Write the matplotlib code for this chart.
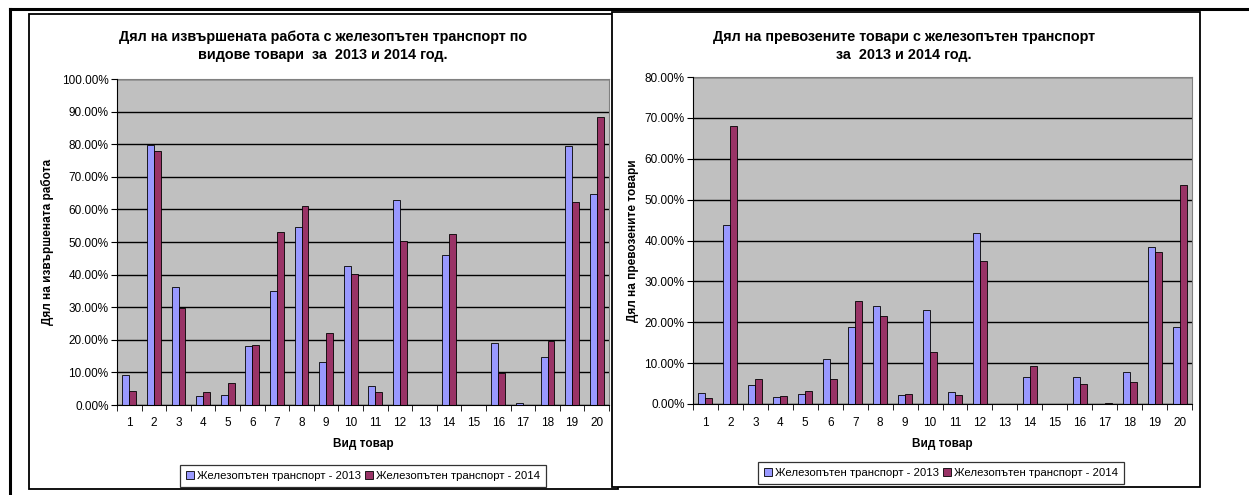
import matplotlib
matplotlib.use("Agg")
import matplotlib.pyplot as plt
from matplotlib.patches import Rectangle
from matplotlib.lines import Line2D
from matplotlib.ticker import FuncFormatter, MultipleLocator
import numpy as np

plt.rcParams["font.family"] = ["Liberation Sans", "DejaVu Sans"]

W, H = 1249, 495

categories = list(range(1, 21))

work_2013 = [9.1, 79.8, 36.3, 2.7, 3.1, 18.1, 34.9, 54.7, 13.1, 42.7,
             5.7, 63.0, 0.0, 46.1, 0.0, 19.1, 0.7, 14.6, 79.6, 64.6]
work_2014 = [4.4, 77.9, 29.7, 4.0, 6.7, 18.4, 53.1, 61.1, 22.2, 40.2,
             4.0, 50.2, 0.0, 52.5, 0.0, 9.8, 0.0, 19.7, 62.2, 88.2]

goods_2013 = [2.6, 43.9, 4.7, 1.8, 2.4, 11.1, 18.8, 23.9, 2.3, 22.9,
              2.9, 41.9, 0.0, 6.5, 0.0, 6.5, 0.1, 7.8, 38.5, 18.8]
goods_2014 = [1.5, 68.0, 6.2, 2.0, 3.2, 6.2, 25.2, 21.5, 2.4, 12.7,
              2.3, 35.0, 0.0, 9.3, 0.0, 4.9, 0.2, 5.4, 37.2, 53.6]

series_labels = ["Железопътен транспорт - 2013", "Железопътен транспорт - 2014"]
title_work = "Дял на извършената работа с железопътен транспорт по\nвидове товари  за  2013 и 2014 год."
title_goods = "Дял на превозените товари с железопътен транспорт\nза  2013 и 2014 год."

BLUE = "#9999FF"
MAROON = "#993366"
PLOT_BG = "#C0C0C0"


def fx(px):
    return px / W


def fy(py):
    return 1 - py / H


def frame(fig, x0, y0, x1, y1, z):
    r = Rectangle((fx(x0), fy(y1)), fx(x1) - fx(x0), fy(y0) - fy(y1),
                  transform=fig.transFigure, facecolor="white",
                  edgecolor="black", linewidth=1.3, zorder=z)
    fig.add_artist(r)


def draw_chart(fig, rect, a, b, ymax, title, ylabel, title_x, legend_xy, z):
    x0, y0, x1, y1 = rect
    ax = fig.add_axes([fx(x0), fy(y1), fx(x1) - fx(x0), fy(y0) - fy(y1)])
    ax.set_zorder(z)
    ax.set_facecolor(PLOT_BG)
    x = np.array(categories)
    w = 0.28
    b1 = ax.bar(x - w / 2, a, w, color=BLUE, edgecolor="black", linewidth=0.6, zorder=3)
    b2 = ax.bar(x + w / 2, b, w, color=MAROON, edgecolor="black", linewidth=0.6, zorder=3)
    ax.set_xlim(0.5, 20.5)
    ax.set_ylim(0, ymax)
    ax.yaxis.set_major_locator(MultipleLocator(10))
    ax.yaxis.set_major_formatter(FuncFormatter(lambda v, p: f"{v:.2f}%"))
    ax.yaxis.grid(True, color="black", linewidth=1.0)
    ax.set_axisbelow(True)
    ax.set_xticks(x)
    ax.set_xticks(np.arange(0.5, 21, 1), minor=True)
    ax.tick_params(axis="x", which="major", length=0, pad=9, labelsize=8.5)
    ax.tick_params(axis="x", which="minor", length=4, direction="out", color="black")
    ax.tick_params(axis="y", length=4, direction="out", labelsize=8.5, pad=2)
    for s in ("top", "right"):
        ax.spines[s].set_color("#808080")
    for s in ("left", "bottom"):
        ax.spines[s].set_color("black")
        ax.spines[s].set_zorder(4)
    ax.set_xlabel("Вид товар", fontsize=8.5, fontweight="bold")
    ax.xaxis.set_label_coords(0.5, (y1 - 444) / (y1 - y0))
    ax.xaxis.label.set_va("center")
    ax.set_ylabel(ylabel, fontsize=8.5, fontweight="bold")
    ax.yaxis.set_label_coords((title_x[1] - x0) / (x1 - x0), 0.5)
    ax.yaxis.label.set_va("center")
    fig.text(fx(title_x[0]), fy(46), title, ha="center", va="center",
             fontsize=10.4, fontweight="bold", linespacing=1.4, zorder=z)
    leg = ax.legend([b1, b2], series_labels, loc="center",
                    bbox_to_anchor=(fx(legend_xy[0]), fy(legend_xy[1])),
                    bbox_transform=fig.transFigure, ncol=2, fontsize=8.2,
                    frameon=True, fancybox=False, shadow=False,
                    handlelength=0.7, handleheight=0.7, handletextpad=0.3,
                    columnspacing=0.3, borderpad=0.5, borderaxespad=0)
    leg.get_frame().set_edgecolor("black")
    leg.get_frame().set_linewidth(0.9)
    return ax


fig = plt.figure(figsize=(W / 100, H / 100), dpi=100)

# outer page lines
fig.add_artist(Line2D([fx(10), fx(W)], [fy(9), fy(9)], transform=fig.transFigure,
                      color="black", linewidth=2.2, zorder=-5))
fig.add_artist(Line2D([fx(10), fx(10)], [fy(9), fy(H)], transform=fig.transFigure,
                      color="black", linewidth=2.2, zorder=-5))

frame(fig, 29, 14, 618, 489, -3)
draw_chart(fig, (117, 79, 609, 405), work_2013, work_2014, 100,
           title_work, "Дял на извършената работа", (323, 47), (363, 476), -2)

frame(fig, 612, 12, 1200, 487, 0.5)
draw_chart(fig, (693, 77, 1192, 404), goods_2013, goods_2014, 80,
           title_goods, "Дял на превозените товари", (904, 633), (941, 473), 1)

fig.savefig("out.png", dpi=100)
